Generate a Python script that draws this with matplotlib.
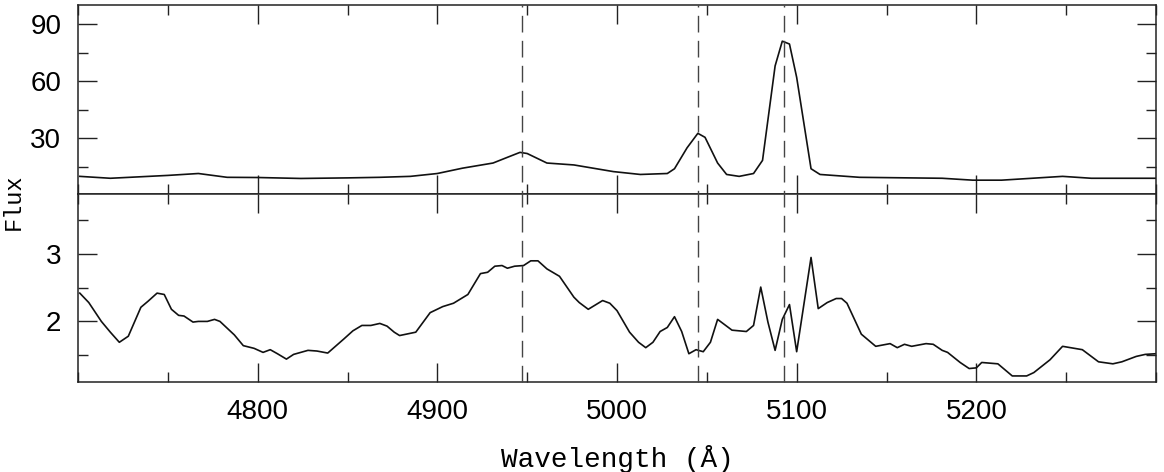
import matplotlib
matplotlib.use("Agg")
import matplotlib.pyplot as plt
from matplotlib.ticker import MultipleLocator, FixedLocator
from matplotlib.lines import Line2D
import matplotlib.transforms as mtransforms

# ---- data ----
top_wave = [4701, 4718, 4750, 4767, 4783, 4800, 4824, 4850, 4868, 4885, 4900, 4914,
            4931, 4939, 4946, 4950, 4961, 4976, 4998, 5013, 5028, 5032, 5039, 5045,
            5049, 5056, 5061, 5068, 5076, 5081, 5088, 5092, 5096, 5100, 5108, 5113,
            5135, 5181, 5198, 5214, 5248, 5264, 5300]
top_flux = [10.0, 9.0, 10.5, 11.5, 9.5, 9.4, 8.9, 9.2, 9.5, 10.0, 11.5, 14.3,
            17.0, 20.0, 22.6, 22.0, 17.0, 16.0, 12.5, 11.0, 11.5, 14.0, 25.0, 32.6,
            30.5, 17.0, 11.0, 10.0, 11.5, 18.4, 68.0, 81.0, 79.5, 62.0, 14.0, 11.0,
            9.5, 9.0, 8.0, 8.0, 10.0, 9.0, 9.0]

bot_wave = [4701, 4706, 4713, 4718, 4723, 4728, 4735, 4739, 4744, 4748, 4752, 4756,
            4759, 4764, 4767, 4772, 4776, 4779, 4787, 4792, 4798, 4803, 4807, 4811,
            4816, 4820, 4828, 4833, 4839, 4848, 4853, 4858, 4863, 4868, 4872, 4876,
            4879, 4888, 4896, 4903, 4909, 4917, 4924, 4928, 4932, 4936, 4939, 4943,
            4948, 4952, 4956, 4961, 4968, 4976, 4979, 4984, 4992, 4996, 5000, 5007,
            5012, 5016, 5020, 5024, 5028, 5032, 5036, 5040, 5044, 5048, 5052, 5056,
            5064, 5072, 5076, 5080, 5084, 5088, 5092, 5096, 5100, 5108, 5112, 5117,
            5122, 5125, 5128, 5136, 5144, 5152, 5156, 5160, 5164, 5172, 5176, 5181,
            5184, 5191, 5196, 5200, 5203, 5212, 5220, 5228, 5232, 5241, 5248, 5259,
            5268, 5276, 5281, 5289, 5294, 5300]
bot_flux = [2.42, 2.28, 2.00, 1.84, 1.69, 1.78, 2.21, 2.30, 2.42, 2.40, 2.18, 2.09,
            2.08, 1.99, 2.00, 2.00, 2.03, 2.00, 1.80, 1.64, 1.60, 1.54, 1.58, 1.52,
            1.44, 1.51, 1.57, 1.56, 1.53, 1.74, 1.86, 1.94, 1.94, 1.97, 1.93, 1.84,
            1.79, 1.84, 2.13, 2.22, 2.27, 2.40, 2.71, 2.73, 2.82, 2.83, 2.79, 2.82,
            2.83, 2.90, 2.90, 2.78, 2.67, 2.36, 2.28, 2.18, 2.31, 2.27, 2.16, 1.84,
            1.69, 1.61, 1.69, 1.85, 1.91, 2.07, 1.85, 1.52, 1.58, 1.55, 1.69, 2.03,
            1.87, 1.85, 1.94, 2.51, 1.99, 1.57, 2.03, 2.25, 1.55, 2.95, 2.19, 2.28,
            2.34, 2.34, 2.27, 1.81, 1.63, 1.67, 1.61, 1.66, 1.63, 1.67, 1.66, 1.57,
            1.54, 1.39, 1.30, 1.31, 1.39, 1.37, 1.19, 1.19, 1.24, 1.43, 1.63, 1.58,
            1.40, 1.37, 1.40, 1.48, 1.51, 1.52]

line_waves = [4947, 5045, 5093]
x_ticks = [4800, 4900, 5000, 5100, 5200]
top_yticks = [30, 60, 90]
bot_yticks = [2, 3]

# ---- figure ----
W, H = 1164, 472
fig = plt.figure(figsize=(W / 100, H / 100), dpi=100)
left, right = 78 / W, 1156 / W
y_top, y_mid, y_bot = 1 - 5 / H, 1 - 193.5 / H, 1 - 382 / H
ax1 = fig.add_axes([left, y_mid, right - left, y_top - y_mid])
ax2 = fig.add_axes([left, y_bot, right - left, y_mid - y_bot], sharex=ax1)

lab_font = "Liberation Mono"

for ax in (ax1, ax2):
    for s in ax.spines.values():
        s.set_linewidth(1.1)
        s.set_color("#222222")
    ax.tick_params(which="both", direction="in", top=True, right=True,
                   width=1.0, color="#222222")
    ax.tick_params(which="major", length=13.5, pad=12, labelsize=20)
    ax.tick_params(which="minor", length=7)
    ax.xaxis.set_major_locator(FixedLocator(x_ticks))
    ax.xaxis.set_minor_locator(MultipleLocator(50))

ax1.plot(top_wave, top_flux, color="#111111", lw=1.2)
ax1.set_xlim(4700, 5300)
ax1.set_ylim(1, 100)
ax1.yaxis.set_major_locator(FixedLocator(top_yticks))
ax1.yaxis.set_minor_locator(MultipleLocator(15))
ax1.tick_params(axis="x", labelbottom=False)

ax2.plot(bot_wave, bot_flux, color="#111111", lw=1.2)
ax2.set_ylim(1.1, 3.9)
ax2.yaxis.set_major_locator(FixedLocator(bot_yticks))
ax2.yaxis.set_minor_locator(MultipleLocator(0.5))
ax2.set_yticklabels([str(v) for v in bot_yticks])

for ax in (ax1, ax2):
    for lab in ax.get_xticklabels() + ax.get_yticklabels():
        lab.set_fontfamily("Liberation Sans")

# dashed lines spanning both panels
trans = mtransforms.blended_transform_factory(ax2.transData, fig.transFigure)
for wl in line_waves:
    ln = Line2D([wl, wl], [y_bot, y_top], transform=trans, color="#444444",
                lw=1.0, linestyle=(0, (12, 6)))
    fig.add_artist(ln)

ax2.set_xlabel("Wavelength (Å)", fontfamily=lab_font, fontsize=20, labelpad=15)
fig.text(13 / W, 1 - 202 / H, "Flux", rotation=90, ha="center", va="center",
         fontfamily=lab_font, fontsize=17)

fig.savefig("out.png", dpi=100)
